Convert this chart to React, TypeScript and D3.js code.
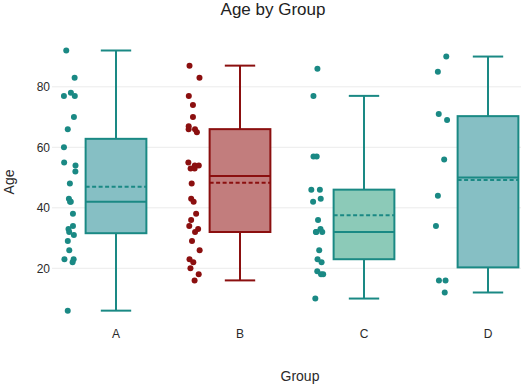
import * as d3 from "d3";

const groups = ["A", "B", "C", "D"];

// raw ages
const agesA = [92, 83, 78, 77, 77, 70, 66, 60, 55, 54, 52, 48, 43, 42, 42, 38, 34, 33, 32, 31, 29, 26, 23, 22, 23, 6];
const agesB = [87, 83, 77, 74, 70, 66, 67, 66, 65, 55, 54, 54, 53, 53, 48, 43, 42, 38, 36, 34, 33, 32, 29, 26, 22, 23, 20, 18, 16];
const agesC = [86, 77, 57, 57, 46, 46, 43, 42, 36, 33, 32, 32, 32, 26, 22, 23, 19, 18, 18, 10];
const agesD = [90, 85, 71, 69, 56, 44, 34, 16, 16, 12];

// box summary per group
const lowFence = [6, 16, 10, 12];
const q1 = [31.6, 32, 23, 20.3];
const median = [42, 50.5, 32, 50];
const q3 = [62.8, 66, 46, 70.3];
const highFence = [92, 87, 77, 90];
const mean = [47, 48.3, 37.5, 49.2];

const yTicks = [20, 40, 60, 80];

const lineColors = ["#1a8984", "#8b0f0f", "#1a8984", "#1a8984"];
const fillColors = ["#86bfc4", "#c27d7d", "#8ccab8", "#86bfc4"];

const W = 521;
const H = 384;
const font = "'Liberation Sans', Arial, sans-serif";

function BoxChart() {
  const x = d3.scaleBand<string>().domain(groups).range([54, 550]);
  const y = d3.scaleLinear().domain([0, 100]).range([328.8, 26.3]);
  const bw = x.bandwidth();
  const boxW = bw * 0.49;
  const capW = boxW / 2;
  const allAges = [agesA, agesB, agesC, agesD];
  const rng = d3.randomLcg(7);
  const jitter = d3.randomUniform.source(rng)(-0.05, 0.05);

  return (
    <svg width={W} height={H} style={{ position: "absolute", left: 0, top: 0 }}>
      <rect width={W} height={H} fill="#fff" />

      {/* gridlines */}
      {yTicks.map((t) => (
        <line key={t} x1={52} x2={W} y1={y(t)} y2={y(t)} stroke="#ececec" strokeWidth={1} />
      ))}

      {/* boxes */}
      {groups.map((g, i) => {
        const cx = x(g)! + bw / 2;
        const col = lineColors[i];
        return (
          <g key={g}>
            <line x1={cx} x2={cx} y1={y(q3[i])} y2={y(highFence[i])} stroke={col} strokeWidth={2} />
            <line x1={cx} x2={cx} y1={y(q1[i])} y2={y(lowFence[i])} stroke={col} strokeWidth={2} />
            <line x1={cx - capW / 2} x2={cx + capW / 2} y1={y(highFence[i])} y2={y(highFence[i])} stroke={col} strokeWidth={2} />
            <line x1={cx - capW / 2} x2={cx + capW / 2} y1={y(lowFence[i])} y2={y(lowFence[i])} stroke={col} strokeWidth={2} />
            <rect
              x={cx - boxW / 2}
              y={y(q3[i])}
              width={boxW}
              height={y(q1[i]) - y(q3[i])}
              fill={fillColors[i]}
              stroke={col}
              strokeWidth={2}
            />
            <line x1={cx - boxW / 2} x2={cx + boxW / 2} y1={y(median[i])} y2={y(median[i])} stroke={col} strokeWidth={2} />
            <line
              x1={cx - boxW / 2}
              x2={cx + boxW / 2}
              y1={y(mean[i])}
              y2={y(mean[i])}
              stroke={col}
              strokeWidth={2}
              strokeDasharray="4,2.5"
            />
            {allAges[i].map((v, j) => (
              <circle key={j} cx={cx + bw * (-0.375 + jitter())} cy={y(v)} r={3} fill={col} />
            ))}
          </g>
        );
      })}

      {/* y tick labels */}
      {yTicks.map((t) => (
        <text key={t} x={50} y={y(t)} dy="0.35em" textAnchor="end" fontSize={12} fontFamily={font} fill="#2a2a2a">
          {t}
        </text>
      ))}

      {/* x tick labels */}
      {groups.map((g) => (
        <text key={g} x={x(g)! + bw / 2} y={334} dy="0.35em" textAnchor="middle" fontSize={12} fontFamily={font} fill="#2a2a2a">
          {g}
        </text>
      ))}

      <text x={300} y={376} dy="0.35em" textAnchor="middle" fontSize={14} fontFamily={font} fill="#2a2a2a">
        Group
      </text>
      <text
        transform={`translate(9,182) rotate(-90)`}
        dy="0.35em"
        textAnchor="middle"
        fontSize={14}
        fontFamily={font}
        fill="#2a2a2a"
      >
        Age
      </text>
      <text x={273} y={9} dy="0.35em" textAnchor="middle" fontSize={17} fontFamily={font} fill="#222">
        Age by Group
      </text>
    </svg>
  );
}

export default function App() {
  return <BoxChart />;
}
